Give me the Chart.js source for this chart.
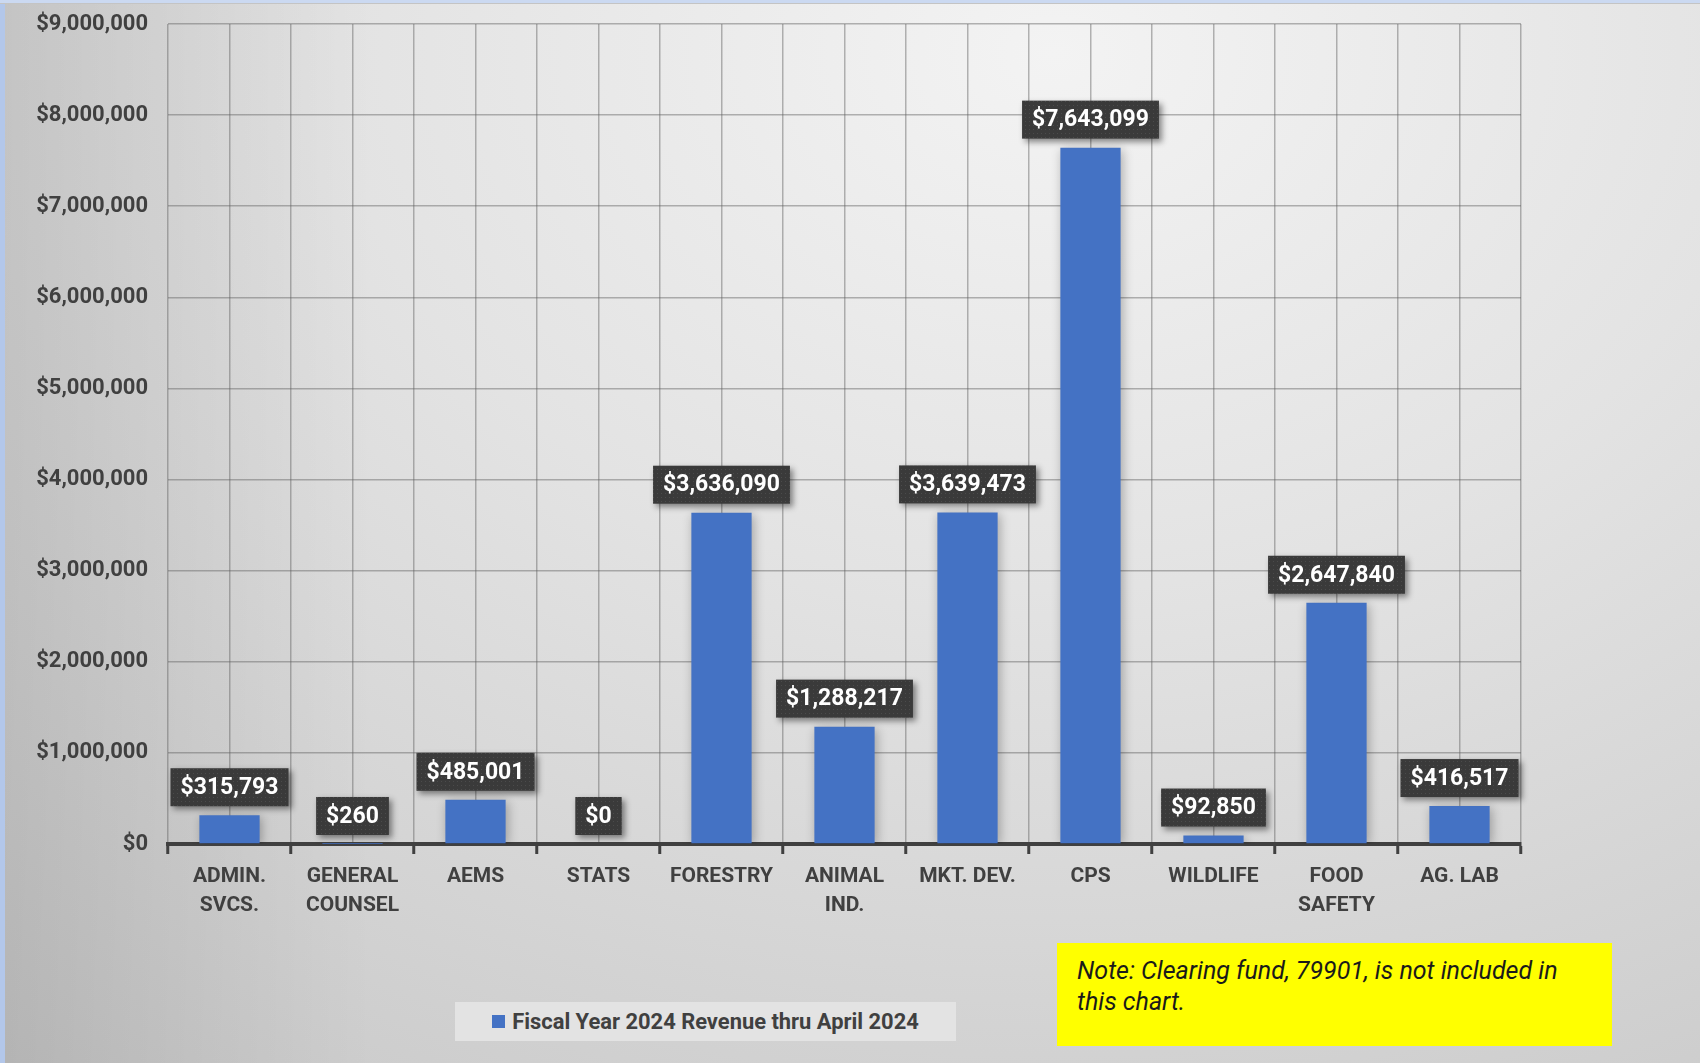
<!DOCTYPE html>
<html>
<head>
<meta charset="utf-8">
<script src="https://cdn.jsdelivr.net/npm/chart.js@4.4.0/dist/chart.umd.min.js"></script>
<style>
  body { margin: 0; overflow: hidden; }
  #wrap {
    position: relative; width: 1700px; height: 1063px;
    background:
      linear-gradient(to right, rgba(0,0,0,0.10) 0%, rgba(0,0,0,0) 22%),
      radial-gradient(ellipse 100% 120% at 62% 5%, #f3f3f3 0%, #e3e3e3 42%, #c8c8c8 100%);
  }
  #edgeLeft { position: absolute; left: 0; top: 0; width: 5px; height: 1063px; background: #b3c7ea; }
  #edgeTop { position: absolute; left: 0; top: 0; width: 1700px; height: 3px; background: #cbd9f1; border-bottom: 1px solid #c4c4c4; }
  #chartBox { position: absolute; left: 0; top: 0; width: 1700px; height: 1063px; }
  #legend {
    position: absolute; left: 455px; top: 1002px; width: 501px; height: 39px;
    background: #e3e3e3; display: flex; align-items: center; justify-content: center;
    font: bold 21.9px Roboto, sans-serif; color: #404040;
  }
  #legend span.swatch { width: 13px; height: 13px; background: #4472c4; margin-right: 7px; }
  #note {
    position: absolute; left: 1057px; top: 943px; width: 555px; height: 103px;
    background: #ffff00; box-sizing: border-box; padding: 12px 0 0 20px;
    font: italic 25px Roboto, sans-serif; color: #1a1a1a; line-height: 31px;
  }
</style>
</head>
<body>
<div id="wrap">
  <div id="chartBox"><canvas id="revenueChart"></canvas></div>
  <div id="edgeLeft"></div>
  <div id="edgeTop"></div>
  <div id="legend"><span class="swatch"></span><span id="legendText"></span></div>
  <div id="note">Note: Clearing fund, 79901, is not included in<br>this chart.</div>
</div>
<script>
const categories = [
  ["ADMIN.", "SVCS."], ["GENERAL", "COUNSEL"], "AEMS", "STATS", "FORESTRY",
  ["ANIMAL", "IND."], "MKT. DEV.", "CPS", "WILDLIFE", ["FOOD", "SAFETY"], "AG. LAB"
];
const revenue = [315793, 260, 485001, 0, 3636090, 1288217, 3639473, 7643099, 92850, 2647840, 416517];
const seriesName = "Fiscal Year 2024 Revenue thru April 2024";
const yMax = 9000000;
const yStep = 1000000;

const money = (v) => "$" + Number(v).toLocaleString("en-US");
const gridColor = "rgba(95,95,95,0.45)";
const textColor = "#404040";
const fontFamily = "Roboto, sans-serif";

document.getElementById("legendText").textContent = seriesName;

// little dotted texture for the value boxes
const dotCanvas = document.createElement("canvas");
dotCanvas.width = 4; dotCanvas.height = 4;
const dctx = dotCanvas.getContext("2d");
dctx.fillStyle = "rgba(255,255,255,0.09)";
dctx.fillRect(1, 1, 1, 1);

const barShadow = {
  id: "barShadow",
  beforeDatasetDraw(chart) {
    const ctx = chart.ctx;
    ctx.save();
    ctx.shadowColor = "rgba(0,0,0,0.28)";
    ctx.shadowBlur = 10;
    ctx.shadowOffsetX = 2;
    ctx.shadowOffsetY = 2;
  },
  afterDatasetDraw(chart) {
    chart.ctx.restore();
  },
};

const valueBoxes = {
  id: "valueBoxes",
  afterDatasetsDraw(chart) {
    const ctx = chart.ctx;
    const dots = ctx.createPattern(dotCanvas, "repeat");
    const meta = chart.getDatasetMeta(0);
    ctx.save();
    ctx.font = "bold 23px " + fontFamily;
    meta.data.forEach((bar, i) => {
      const text = money(revenue[i]);
      const w = ctx.measureText(text).width + 20;
      const h = 38;
      const x = bar.x - w / 2;
      const y = bar.y - 9 - h;
      ctx.save();
      ctx.shadowColor = "rgba(0,0,0,0.45)";
      ctx.shadowBlur = 6;
      ctx.shadowOffsetX = 3;
      ctx.shadowOffsetY = 3;
      ctx.fillStyle = "#3a3a3a";
      ctx.fillRect(x, y, w, h);
      ctx.restore();
      ctx.fillStyle = dots;
      ctx.fillRect(x, y, w, h);
      ctx.fillStyle = "#ffffff";
      ctx.textAlign = "center";
      ctx.textBaseline = "middle";
      ctx.fillText(text, bar.x, y + h / 2 + 1);
    });
    ctx.restore();
  },
};

const ctx = document.getElementById("revenueChart").getContext("2d");
const chart = new Chart(ctx, {
  type: "bar",
  data: {
    labels: categories,
    datasets: [
      {
        label: seriesName,
        data: revenue,
        backgroundColor: "#4472c4",
        categoryPercentage: 0.49,
        barPercentage: 1,
      },
    ],
  },
  options: {
    responsive: true,
    maintainAspectRatio: false,
    animation: false,
    layout: { padding: { left: 18, right: 179, top: 24, bottom: 131 } },
    plugins: {
      legend: { display: false },
      tooltip: { enabled: false },
    },
    scales: {
      x: {
        type: "category",
        offset: true,
        grid: {
          offset: true,
          color: gridColor,
          lineWidth: 1.5,
          tickColor: textColor,
          tickWidth: 3,
          tickLength: 10,
        },
        border: { color: textColor, width: 4 },
        ticks: {
          color: textColor,
          font: { family: fontFamily, weight: "bold", size: 21, lineHeight: 1.38 },
          padding: 8,
          maxRotation: 0,
          autoSkip: false,
        },
        afterFit: (s) => { s.height = 88; },
      },
      x2: {
        type: "category",
        position: "top",
        offset: true,
        grid: { offset: false, color: gridColor, lineWidth: 1.5, drawTicks: false },
        border: { display: false },
        ticks: { display: false },
        afterFit: (s) => { s.height = 0; },
      },
      y: {
        min: 0,
        max: yMax,
        ticks: {
          stepSize: yStep,
          callback: (v) => money(v),
          color: textColor,
          font: { family: fontFamily, weight: "bold", size: 22 },
          padding: 20,
        },
        grid: { color: gridColor, lineWidth: 1.5, drawTicks: false },
        border: { display: false },
        afterFit: (s) => {
          s.width = 150;
          s.paddingTop = 0;
          s.paddingBottom = 0;
        },
      },
    },
  },
  plugins: [barShadow, valueBoxes],
});
</script>
</body>
</html>
